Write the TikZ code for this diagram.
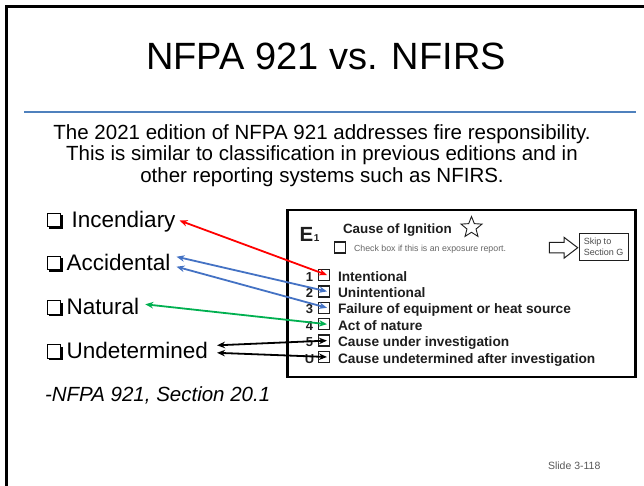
\documentclass[tikz,border=0pt]{standalone}
\usepackage{fontspec}
\setmainfont{Liberation Sans}
\usetikzlibrary{arrows.meta,shapes.geometric,shadows,calc}
\definecolor{lineblue}{RGB}{79,129,189}
\definecolor{arrblue}{RGB}{68,114,196}
\definecolor{arrgreen}{RGB}{0,176,80}
\definecolor{formtext}{RGB}{30,30,30}
\begin{document}
\begin{tikzpicture}[x=1pt,y=-1pt,
  every node/.style={inner sep=0pt, outer sep=0pt},
  itemtext/.style={anchor=base west, font=\fontsize{22.5}{26}\selectfont},
  qbox/.style={draw, line width=1.1pt, fill=white, minimum size=13.5pt,
    drop shadow={shadow xshift=2.2pt, shadow yshift=-2.2pt, fill=black, opacity=1}},
  rownum/.style={anchor=base, font=\fontsize{13}{15}\selectfont\bfseries, text=formtext},
  rowbox/.style={draw=formtext, line width=1.4pt, minimum size=11pt},
  rowlabel/.style={anchor=base west, font=\fontsize{13.7}{16}\selectfont\bfseries, text=formtext},
  conn/.style={line width=1.8pt, {Stealth[length=8pt,width=6.5pt]}-{Stealth[length=8pt,width=6.5pt]}},
]
\useasboundingbox (0,0) rectangle (644,485);
\fill[white] (0,0) rectangle (644,485);
% slide frame
\draw[line width=2.4pt] (6.5,492) -- (6.5,6.5) -- (652,6.5);

% title and rule
\node[anchor=base, font=\fontsize{38}{40}\selectfont] (title) at (326,69.3) {NFPA 921 vs. NFIRS};
\draw[lineblue, line width=1.6pt] (24,111.7) -- (636,111.7);

% paragraph
\node[anchor=north, align=center, font=\fontsize{20.5}{21.5}\selectfont] (para) at (322,124.5)
  {The 2021 edition of NFPA 921 addresses fire responsibility.\\
   This is similar to classification in previous editions and in\\
   other reporting systems such as NFIRS.};

% left list
\node[qbox] (qinc) at (54,220) {};
\node[itemtext] (inc) at (71.7,227) {Incendiary};
\node[qbox] (qacc) at (54,263) {};
\node[itemtext] (acc) at (66.7,270) {Accidental};
\node[qbox] (qnat) at (54,307.3) {};
\node[itemtext] (nat) at (66.7,314.3) {Natural};
\node[qbox] (qund) at (54,351.3) {};
\node[itemtext] (und) at (66.7,358.3) {Undetermined};

\node[anchor=base west, font=\fontsize{20.5}{24}\selectfont\itshape] (src) at (45,401) {-NFPA 921, Section 20.1};

% form
\node[draw, line width=2.6pt, minimum width=348pt, minimum height=167pt] (form) at (461.5,293.5) {};
\node[anchor=base west, font=\fontsize{20.5}{22}\selectfont\bfseries, text=formtext] (e1) at (299.5,241.7)
  {E\hspace{0.6pt}{\fontsize{10}{10}\selectfont 1}};
\node[anchor=base west, font=\fontsize{13.4}{15}\selectfont\bfseries, text=formtext] (cause) at (343,233) {Cause of Ignition};
\node[star, star points=5, star point ratio=2.3, draw=formtext, line width=0.9pt, minimum size=22pt] (star) at (471.5,227.5) {};
\node[draw=formtext, line width=1.3pt, minimum size=11pt] (chk) at (340,247.5) {};
\node[anchor=base west, font=\fontsize{8.8}{10}\selectfont, text=black!60] (chktext) at (354,251) {Check box if this is an exposure report.};
\draw[formtext, line width=1pt] (549.3,242.3) -- (564,242.3) -- (564,237.3) -- (577.7,247.7)
  -- (564,258.2) -- (564,252.9) -- (549.3,252.9) -- cycle;
\node[draw=formtext, line width=1pt, minimum width=49pt, minimum height=27pt, align=left,
  font=\fontsize{9}{11}\selectfont, text=black!70] (skip) at (603.5,246.5) {Skip to\\Section G};

% rows
\node[rownum] (n1) at (309.5,281) {1};
\node[rownum] (n2) at (309.5,297.4) {2};
\node[rownum] (n3) at (309.5,313.8) {3};
\node[rownum] (n4) at (309.5,330.2) {4};
\node[rownum] (n5) at (309.5,346.6) {5};
\node[rownum] (n6) at (309.5,363) {U};
\node[rowbox] (b1) at (324,275) {};
\node[rowbox] (b2) at (324,291.4) {};
\node[rowbox] (b3) at (324,307.8) {};
\node[rowbox] (b4) at (324,324.2) {};
\node[rowbox] (b5) at (324,340.6) {};
\node[rowbox] (b6) at (324,357) {};
\node[rowlabel] (l1) at (338,281) {Intentional};
\node[rowlabel] (l2) at (338,297.4) {Unintentional};
\node[rowlabel] (l3) at (338,313.8) {Failure of equipment or heat source};
\node[rowlabel] (l4) at (338,330.2) {Act of nature};
\node[rowlabel] (l5) at (338,346.6) {Cause under investigation};
\node[rowlabel] (l6) at (338,363) {Cause undetermined after investigation};

% connectors
\draw[conn, red] ($(inc.base east)+(4,-6.5)$) -- ($(b1.center)+(3,0)$);
\draw[conn, arrblue] ($(acc.base east)+(6,-13.3)$) -- ($(b2.center)+(3,0)$);
\draw[conn, arrblue] ($(acc.base east)+(6,-3.3)$) -- ($(b3.center)+(3,0)$);
\draw[conn, arrgreen] ($(nat.base east)+(6,-10)$) -- ($(b4.center)+(3,0)$);
\draw[conn, black] ($(und.base east)+(9,-13)$) -- ($(b5.center)+(3,0)$);
\draw[conn, black] ($(und.base east)+(9,-5.5)$) -- ($(b6.center)+(3,0)$);

% footer
\node[anchor=base west, font=\fontsize{10.5}{12}\selectfont, text=black!65] (slide) at (548,469) {Slide 3-118};
\end{tikzpicture}
\end{document}
